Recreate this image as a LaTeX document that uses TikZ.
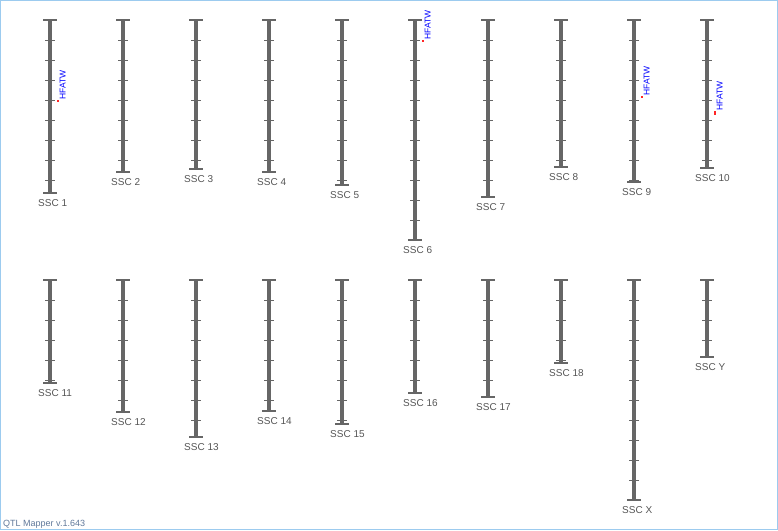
\documentclass[tikz,border=0pt]{standalone}
\usepackage{fontspec}
\setmainfont{Liberation Sans}
\usetikzlibrary{positioning}
\definecolor{chrgray}{HTML}{666666}
\definecolor{labgray}{HTML}{555555}
\definecolor{frameblue}{HTML}{9CCBEF}
\definecolor{verblue}{HTML}{60789A}
\tikzset{
  chrbar/.style={draw=chrgray, line width=4.5pt},
  chrcap/.style={draw=chrgray, line width=1.5pt},
  chrtick/.style={draw=chrgray, line width=1pt},
  chrlabel/.style={anchor=west, inner sep=0pt, text=labgray, font=\fontsize{10}{12}\selectfont},
  qtlmark/.style={fill=red!85!white, draw=none},
  qtllabel/.style={rotate=90, anchor=base west, inner sep=0pt, text=blue, font=\fontsize{8.5}{10}\selectfont},
}

\begin{document}
\begin{tikzpicture}[x=1pt, y=-1pt]
  \useasboundingbox (0,0) rectangle (778,530);
  \draw[frameblue, line width=1pt] (0.5,0.5) rectangle (777.5,529.5);
  % chromosomes: x / top / bottom / name
  \foreach \x/\ytop/\ybot/\id in {50/20/193/1, 123/20/172/2, 196/20/169/3, 269/20/172/4,
      342/20/185/5, 415/20/240/6, 488/20/197/7, 561/20/167/8, 634/20/182/9, 707/20/168/10,
      50/280/383/11, 123/280/412/12, 196/280/437/13, 269/280/411/14, 342/280/424/15,
      415/280/393/16, 488/280/397/17, 561/280/363/18, 634/280/500/X, 707/280/357/Y}{
    \coordinate (top\id) at (\x,\ytop);
    \coordinate (bot\id) at (\x,\ybot);
    \draw[chrbar] (top\id) -- (bot\id);
    \draw[chrcap] (\x-7,\ytop) -- (\x+7,\ytop);
    \draw[chrcap] (\x-7,\ybot) -- (\x+7,\ybot);
    \pgfmathtruncatemacro\nticks{(\ybot-\ytop-1)/20}
    \foreach \k in {1,...,\nticks}
      \draw[chrtick] (\x-5,\ytop+20*\k) -- (\x+5,\ytop+20*\k);
    \node[chrlabel] (lab\id) at (\x-12,\ybot+10) {SSC \id};
  }
  % QTL positions
  \foreach \x/\ya/\yb/\id in {50/100/102/1, 415/39.5/41.5/6, 634/96/98/9, 707/111/115/10}{
    \fill[qtlmark] (\x+7,\ya) rectangle (\x+9,\yb);
    \node[qtllabel] (qtl\id) at (\x+15.5,\ya) {HFATW};
  }
  \node[anchor=base west, inner sep=0pt, text=verblue, font=\fontsize{9}{11}\selectfont]
    (version) at (3,526.5) {QTL Mapper v.1.643};
\end{tikzpicture}
\end{document}
